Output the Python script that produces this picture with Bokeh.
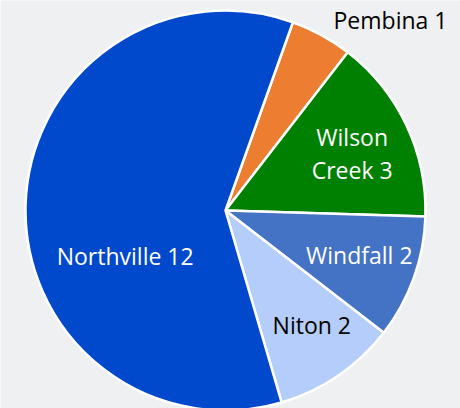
import math
from bokeh.plotting import figure
from bokeh.models import Range1d, ColumnDataSource
from bokeh.embed import file_html
from bokeh.resources import INLINE
from bokeh.core.properties import value

# ---- data ----
categories = ["Pembina", "Wilson Creek", "Windfall", "Niton", "Northville"]
values = [1, 3, 2, 2, 12]
labels = ["Pembina 1", "Wilson\nCreek 3", "Windfall 2", "Niton 2", "Northville 12"]

# ---- style / layout ----
colors = ["#ED7D31", "#008000", "#4472C4", "#B4CDFA", "#0048CC"]
label_colors = ["#000000", "#FFFFFF", "#FFFFFF", "#000000", "#FFFFFF"]
START_DEG = 19.7          # first slice starts this far clockwise from 12 o'clock
RADIUS = 200
CX, CY = 225, 210         # pie centre in pixels from the top-left corner
label_radius = [252, 139, 141, 143, 110]
label_angle_shift = [12.2, 1.0, -1.3, -2.8, -25.9]
BG = "#eff0f2"

total = float(sum(values))
starts, ends, lx, ly = [], [], [], []
cum = START_DEG
for i, v in enumerate(values):
    a0 = cum
    a1 = cum + 360.0 * v / total
    cum = a1
    starts.append(math.radians(90 - a0))
    ends.append(math.radians(90 - a1))
    mid = (a0 + a1) / 2 + label_angle_shift[i]
    r = label_radius[i]
    lx.append(r * math.sin(math.radians(mid)))
    ly.append(r * math.cos(math.radians(mid)))

src = ColumnDataSource(dict(cat=categories, val=values, start=starts, end=ends,
                            color=colors, label=labels, lx=lx, ly=ly, lc=label_colors))

W, H = 460, 408
p = figure(width=W, height=H, output_backend="svg", toolbar_location=None,
           x_range=Range1d(-CX, W - CX), y_range=Range1d(-(H - CY), CY),
           min_border=0, background_fill_color=BG, border_fill_color=BG)
p.axis.visible = False
p.grid.visible = False
p.outline_line_color = None

p.wedge(x=0, y=0, radius=RADIUS, start_angle="start", end_angle="end",
        direction="clock", fill_color="color", line_color="white", line_width=2.5,
        source=src)

p.text(x="lx", y="ly", text="label", source=src, text_color="lc",
       text_font=value("Open Sans"), text_font_size="23px",
       text_align="center", text_baseline="middle", text_line_height=1.02)

open("out.html", "w").write(file_html(p, INLINE))
